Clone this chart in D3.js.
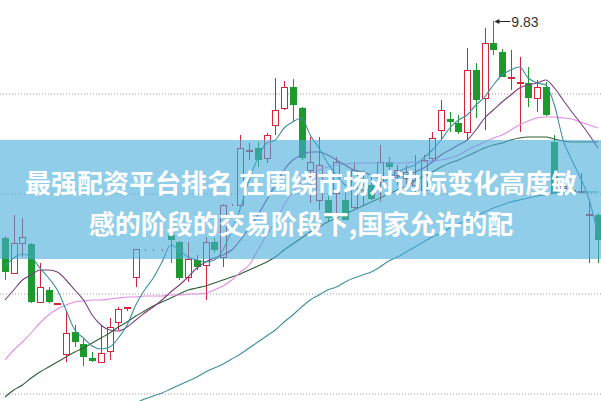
<!DOCTYPE html>
<html><head><meta charset="utf-8">
<script src="https://cdn.jsdelivr.net/npm/d3@7"></script>
<style>body{margin:0;background:#fff}svg{display:block}</style>
</head><body><svg id="c" width="601" height="401"></svg>
<script>
// ---- data (prices) ----
const openP  = [8.745,8.570,8.720,8.715,8.425,8.485,8.415,8.165,8.275,8.215,8.145,8.125,8.180,8.325,8.395,8.550,8.685,8.685,8.685,8.760,8.725,8.550,8.635,8.610,8.725,8.650,8.910,8.910,9.180,9.195,9.145,9.310,9.395,9.500,9.395,9.085,8.935,8.935,8.970,8.935,8.900,8.985,9.010,9.025,9.125,9.060,9.045,9.010,8.985,9.145,9.285,9.340,9.320,9.275,9.585,9.445,9.720,9.675,9.545,9.520,9.520,9.445,9.500,9.225,8.995,8.985,8.975,8.860,8.860];
const highP  = [8.755,8.860,8.845,8.720,8.620,8.500,8.420,8.385,8.310,8.240,8.175,8.305,8.345,8.400,8.400,8.690,8.690,8.690,8.690,8.775,8.730,8.725,8.660,8.750,8.745,8.915,8.915,9.260,9.220,9.225,9.270,9.545,9.530,9.540,9.400,9.250,9.250,9.035,9.150,8.985,9.125,9.085,9.070,9.210,9.150,9.110,9.110,9.160,9.160,9.275,9.435,9.375,9.360,9.695,9.620,9.795,9.830,9.690,9.685,9.650,9.600,9.535,9.525,9.260,9.035,9.010,9.070,8.935,8.870];
const lowP   = [8.535,8.565,8.650,8.420,8.420,8.420,8.415,8.125,8.200,8.105,8.125,8.125,8.135,8.285,8.380,8.500,8.680,8.680,8.680,8.620,8.535,8.525,8.585,8.435,8.670,8.600,8.905,8.905,9.135,9.100,9.120,9.260,9.385,9.325,9.135,8.920,8.885,8.825,8.820,8.835,8.885,8.910,8.935,8.925,8.960,9.010,8.985,8.960,8.960,9.125,9.235,9.275,9.265,9.235,9.345,9.285,9.660,9.550,9.485,9.275,9.400,9.375,9.355,8.965,8.975,8.960,8.970,8.620,8.620];
const closeP = [8.575,8.720,8.750,8.425,8.500,8.425,8.420,8.270,8.225,8.150,8.130,8.170,8.300,8.390,8.400,8.690,8.685,8.685,8.685,8.735,8.545,8.640,8.600,8.725,8.685,8.910,8.910,9.195,9.185,9.135,9.260,9.385,9.500,9.410,9.145,9.125,9.110,8.845,9.125,8.835,9.085,9.010,8.940,9.125,9.100,9.085,9.075,9.035,9.135,9.245,9.385,9.325,9.275,9.585,9.435,9.720,9.685,9.550,9.550,9.525,9.445,9.500,9.360,8.970,9.005,8.975,8.980,8.865,8.735];

const ma5  = [8.605,8.645,8.665,8.650,8.595,8.545,8.485,8.385,8.285,8.245,8.205,8.190,8.200,8.245,8.310,8.410,8.485,8.545,8.625,8.710,8.685,8.650,8.635,8.625,8.635,8.685,8.785,8.895,9.035,9.145,9.220,9.235,9.295,9.325,9.345,9.260,9.195,9.120,9.060,9.010,8.995,8.985,8.985,9.010,9.045,9.075,9.095,9.110,9.145,9.185,9.235,9.295,9.335,9.360,9.410,9.450,9.510,9.560,9.585,9.600,9.545,9.520,9.510,9.410,9.235,9.135,9.045,8.935,8.760];
const ma10 = [8.435,8.485,8.535,8.560,8.585,8.585,8.575,8.535,8.485,8.435,8.360,8.310,8.285,8.280,8.300,8.335,8.370,8.400,8.435,8.475,8.510,8.550,8.595,8.625,8.645,8.660,8.685,8.735,8.795,8.860,8.935,9.010,9.085,9.135,9.160,9.175,9.175,9.160,9.135,9.110,9.085,9.075,9.060,9.045,9.045,9.050,9.060,9.075,9.095,9.125,9.160,9.185,9.210,9.235,9.285,9.345,9.385,9.425,9.460,9.495,9.510,9.520,9.535,9.495,9.435,9.375,9.320,9.260,9.195];
const ma20 = [8.135,8.185,8.225,8.270,8.320,8.360,8.390,8.410,8.425,8.430,8.435,8.435,8.440,8.445,8.450,8.450,8.455,8.455,8.455,8.460,8.460,8.465,8.465,8.470,8.485,8.505,8.535,8.575,8.610,8.685,8.760,8.825,8.910,8.975,9.025,9.060,9.085,9.100,9.110,9.115,9.120,9.120,9.120,9.120,9.120,9.120,9.120,9.125,9.125,9.130,9.135,9.145,9.160,9.185,9.205,9.225,9.245,9.260,9.285,9.310,9.330,9.345,9.350,9.350,9.345,9.340,9.325,9.310,9.295];
const ma30 = [7.950,7.985,8.010,8.045,8.075,8.100,8.125,8.150,8.175,8.195,8.220,8.245,8.270,8.300,8.325,8.355,8.380,8.405,8.425,8.445,8.465,8.485,8.495,8.505,8.520,8.535,8.550,8.565,8.585,8.605,8.625,8.650,8.685,8.715,8.745,8.775,8.800,8.825,8.845,8.865,8.885,8.905,8.925,8.945,8.965,8.985,9.005,9.030,9.055,9.075,9.100,9.120,9.135,9.155,9.175,9.195,9.210,9.220,9.235,9.245,9.250,9.250,9.250,9.240,9.230,9.225,9.225,9.225,9.225];
const ma60 = [null,null,null,null,null,null,null,null,null,null,null,null,null,null,null,7.920,7.940,7.955,7.970,7.990,8.010,8.030,8.050,8.075,8.095,8.115,8.140,8.165,8.195,8.225,8.255,8.285,8.325,8.360,8.400,8.435,8.460,8.485,8.500,8.525,8.545,8.560,8.575,8.600,8.630,8.650,8.675,8.700,8.725,8.750,8.770,8.795,8.815,8.835,8.855,8.875,8.895,8.910,8.925,8.935,8.945,8.955,8.960,8.970,8.970,8.975,8.975,8.975,8.975];

const gridTicks = [7.97, 8.47, 8.97, 9.47];
const peakIndex = 56;
const peakLabel = "9.83";
const bannerLines = ["最强配资平台排名 在围绕市场对边际变化高度敏", "感的阶段的交易阶段下,国家允许的配"];

// ---- drawing ----
const W = 601, H = 401;
const svg = d3.select("#c");
const x = d3.scaleLinear().domain([0, openP.length - 1]).range([5, 598]);
const y = d3.scaleLinear().domain([7.97, 9.47]).range([393, 93]);

const RED = "#d3263a", GREEN = "#1c9a2c";

// grid
const grid = svg.append("g").attr("class", "grid")
  .call(d3.axisRight(y).tickValues(gridTicks).tickSize(W).tickFormat(""));
grid.select(".domain").remove();
grid.selectAll("line").attr("stroke", "#9a9a9a").attr("stroke-dasharray", "1,2").attr("stroke-width", 1)
  .attr("transform", "translate(0,0.5)");

// candles
const data = openP.map((o, i) => ({i, o, h: highP[i], l: lowP[i], c: closeP[i]}));
const cg = svg.append("g");
const bw = 6;
data.forEach(d => {
  const up = d.c >= d.o;
  const col = up ? RED : GREEN;
  const cx = Math.round(x(d.i)) + 0.5;
  const top = y(Math.max(d.o, d.c)), bot = y(Math.min(d.o, d.c));
  cg.append("line").attr("x1", cx).attr("x2", cx)
    .attr("y1", y(d.h)).attr("y2", top).attr("stroke", col);
  cg.append("line").attr("x1", cx).attr("x2", cx)
    .attr("y1", bot).attr("y2", y(d.l)).attr("stroke", col);
  const hgt = Math.max(0, Math.round(bot - top));
  if (up) {
    cg.append("rect").attr("x", cx - bw/2).attr("y", Math.round(top) + 0.5)
      .attr("width", bw).attr("height", hgt)
      .attr("fill", "#fff").attr("stroke", col);
  } else {
    cg.append("rect").attr("x", cx - bw/2 - 0.5).attr("y", Math.round(top))
      .attr("width", bw + 1).attr("height", Math.max(1, hgt))
      .attr("fill", col);
  }
});

// moving averages
const lines = [
  {v: ma60, c: "#3f8e9e"},
  {v: ma30, c: "#2f5f34"},
  {v: ma20, c: "#e28ce6"},
  {v: ma10, c: "#7a3f7e"},
  {v: ma5,  c: "#3d8ea2"}
];
const lg = d3.line().defined(d => d != null).x((d, i) => x(i)).y(d => y(d)).curve(d3.curveMonotoneX);
lines.forEach(L => {
  svg.append("path").attr("d", lg(L.v)).attr("fill", "none")
    .attr("stroke", L.c).attr("stroke-width", 1.1);
});

// peak label
const px = x(peakIndex) + 1, py = Math.round(y(highP[peakIndex])) + 0.5;
svg.append("line").attr("x1", px + 3).attr("x2", px + 16).attr("y1", py).attr("y2", py)
  .attr("stroke", "#222").attr("stroke-width", 1);
svg.append("path").attr("d", `M${px},${py} L${px+5},${py-2.5} L${px+5},${py+2.5} Z`).attr("fill", "#222");
svg.append("text").attr("x", px + 17).attr("y", py + 5).text(peakLabel)
  .attr("font-family", "Liberation Sans, Arial, sans-serif").attr("font-size", 14).attr("fill", "#333");

// banner
svg.append("rect").attr("x", 0).attr("y", 140).attr("width", W).attr("height", 119)
  .attr("fill", "rgb(70,172,218)").attr("fill-opacity", 0.6);
svg.selectAll("text.ban").data(bannerLines).enter().append("text").attr("class", "ban")
  .attr("x", 301).attr("y", (d, i) => 181 + i * 41)
  .attr("text-anchor", "middle").attr("dominant-baseline", "central")
  .attr("font-family", "Noto Sans CJK SC, sans-serif").attr("font-weight", "bold")
  .attr("font-size", 26).attr("fill", "#fff").text(d => d);
</script></body></html>
